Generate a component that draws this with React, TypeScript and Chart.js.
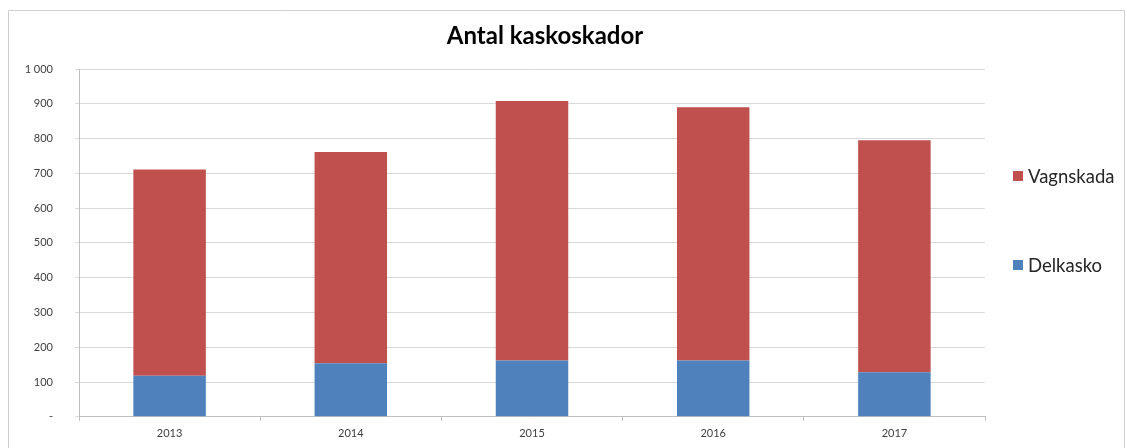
import React, { useEffect, useRef } from "react";
import { Chart, registerables } from "chart.js";

Chart.register(...registerables);

const categories = ["2013", "2014", "2015", "2016", "2017"];
const delkasko = [118, 154, 162, 162, 128];
const vagnskada = [593, 607, 746, 728, 667];
const yTickLabels = ["-", "100", "200", "300", "400", "500", "600", "700", "800", "900", "1\u00a0000"];
const seriesNames = ["Delkasko", "Vagnskada"];
const seriesColors = ["#4F81BD", "#C0504D"];
const chartTitle = "Antal kaskoskador";

const frameTitleLegend = {
  id: "frameTitleLegend",
  beforeDraw(chart: any) {
    const ctx = chart.ctx;
    ctx.save();
    ctx.strokeStyle = "#cfcfcf";
    ctx.lineWidth = 1;
    ctx.beginPath();
    ctx.moveTo(8.5, 460);
    ctx.lineTo(8.5, 10.5);
    ctx.lineTo(1124.5, 10.5);
    ctx.lineTo(1124.5, 460);
    ctx.stroke();
    ctx.restore();
  },
  afterDraw(chart: any) {
    const ctx = chart.ctx;
    ctx.save();
    ctx.font = "bold 24px Lato";
    ctx.fillStyle = "#000";
    ctx.textAlign = "center";
    ctx.textBaseline = "middle";
    ctx.fillText(chartTitle, 545, 36);

    const ds = chart.data.datasets;
    const rows = [ds[1], ds[0]];
    const ys = [176, 265];
    ctx.font = "18.5px Lato";
    ctx.textBaseline = "middle";
    ctx.textAlign = "left";
    rows.forEach((d: any, i: number) => {
      ctx.fillStyle = d.backgroundColor;
      ctx.fillRect(1013, ys[i] - 5, 10, 10);
      ctx.fillStyle = "#262626";
      ctx.fillText(d.label, 1028, ys[i] + 1);
    });
    ctx.restore();
  },
};

export default function App() {
  const ref = useRef<HTMLCanvasElement>(null);
  useEffect(() => {
    if (!ref.current) return;
    const chart = new Chart(ref.current, {
      type: "bar",
      data: {
        labels: categories,
        datasets: [
          { label: seriesNames[0], data: delkasko, backgroundColor: seriesColors[0], barPercentage: 0.4, categoryPercentage: 1 },
          { label: seriesNames[1], data: vagnskada, backgroundColor: seriesColors[1], barPercentage: 0.4, categoryPercentage: 1 },
        ],
      },
      options: {
        animation: false,
        responsive: false,
        maintainAspectRatio: false,
        layout: { padding: { left: 0, right: 142, top: 69, bottom: 2 } },
        plugins: {
          legend: { display: false },
          tooltip: { enabled: false },
          title: { display: false },
        },
        scales: {
          x: {
            stacked: true,
            offset: true,
            grid: { display: true, drawOnChartArea: false, tickLength: 4, color: "#bfbfbf", offset: true },
            border: { color: "#bfbfbf" },
            ticks: { color: "#404040", font: { family: "Lato", size: 11 }, padding: 6 },
          },
          y: {
            stacked: true,
            min: 0,
            max: 1000,
            afterFit(scale: any) {
              scale.width = 79;
            },
            grid: { color: "#d9d9d9", tickLength: 4 },
            border: { color: "#bfbfbf" },
            ticks: {
              stepSize: 100,
              padding: 22,
              color: "#404040",
              font: { family: "Lato", size: 11 },
              callback: (v: any) => yTickLabels[Math.round(Number(v) / 100)],
            },
          },
        },
      },
      plugins: [frameTitleLegend],
    });
    return () => chart.destroy();
  }, []);
  return (
    <div style={{ position: "fixed", left: 0, top: 0, width: 1127, height: 448, background: "#fff" }}>
      <canvas ref={ref} width={1127} height={448} style={{ display: "block" }} />
    </div>
  );
}
